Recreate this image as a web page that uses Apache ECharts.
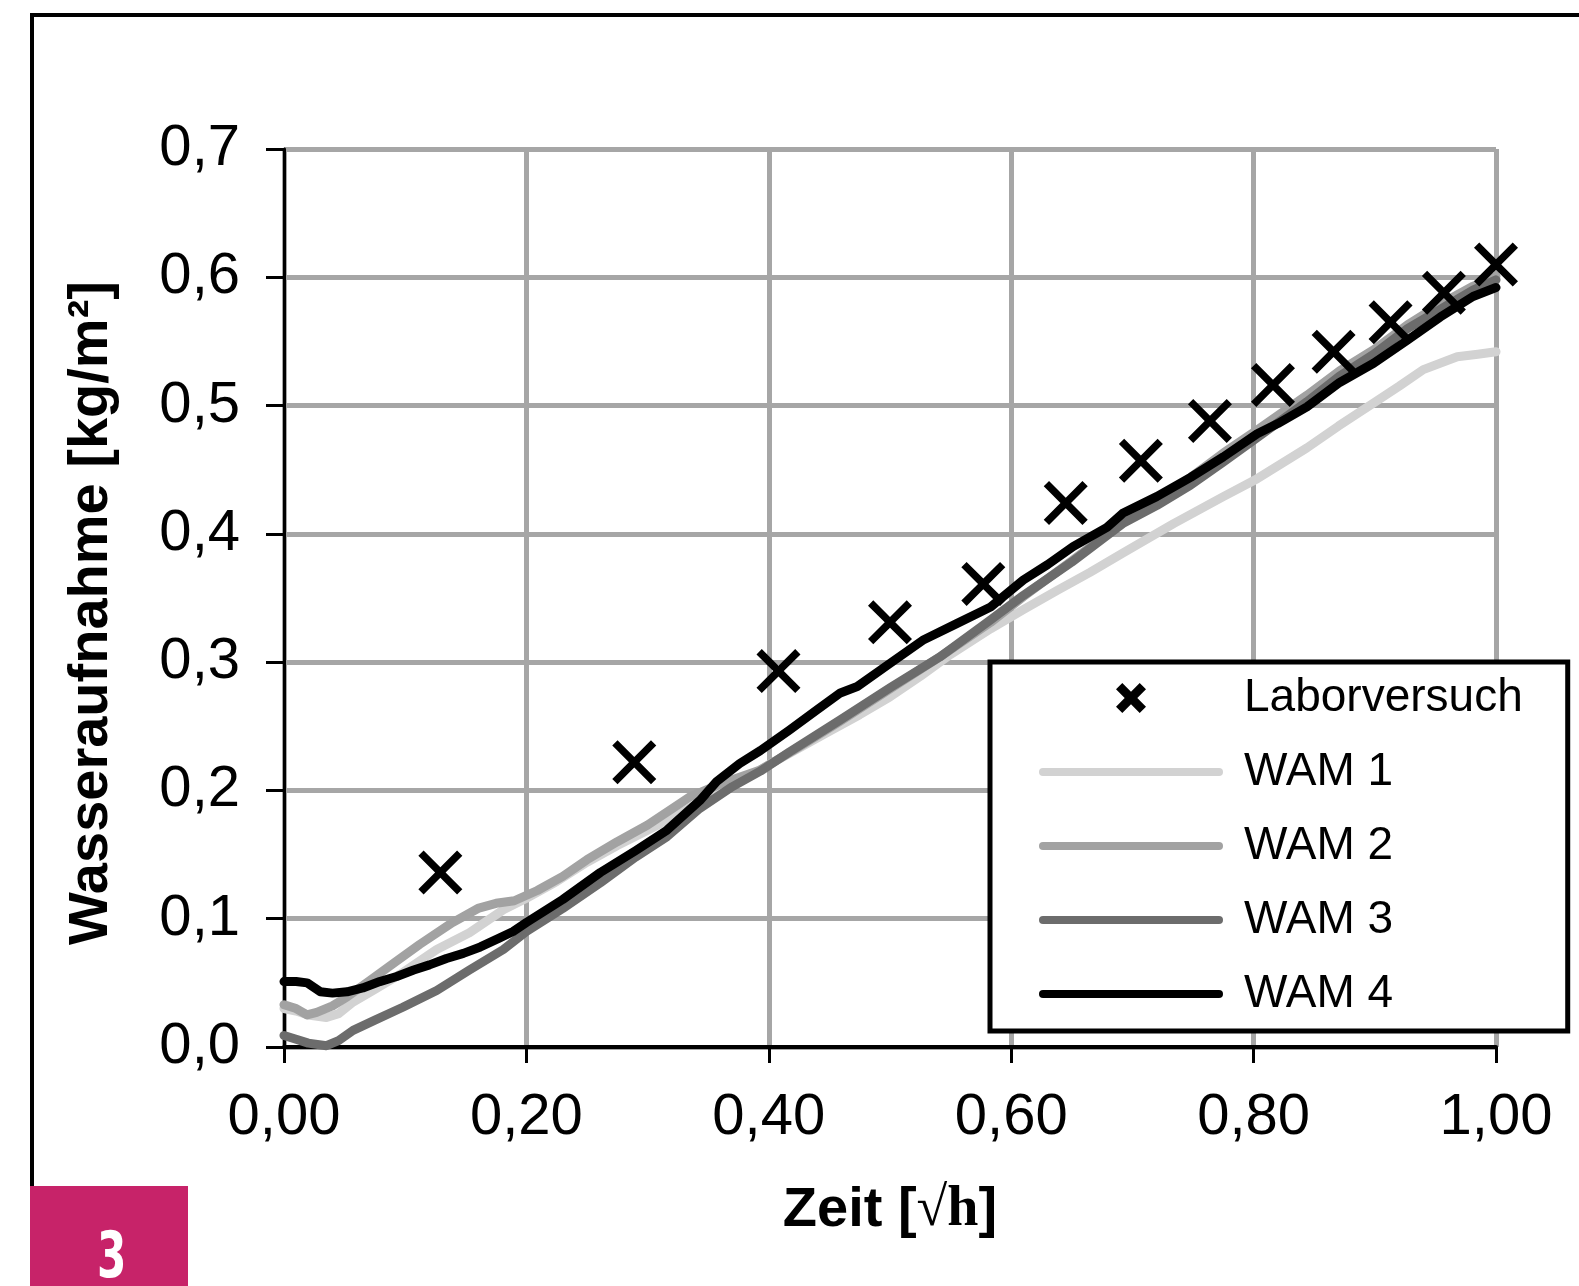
<!DOCTYPE html>
<html>
<head>
<meta charset="utf-8">
<title>Wasseraufnahme</title>
<script src="https://cdn.jsdelivr.net/npm/echarts@6/dist/echarts.min.js"></script>
<style>
	html, body { margin: 0; padding: 0; background: #fff; }
	#chart { width: 1579px; height: 1286px; }
</style>
</head>
<body>
<div id="chart"></div>
<script>
	// Laborversuch (Messpunkte)
	var laborX = [0.129, 0.289, 0.408, 0.500, 0.577, 0.645, 0.707, 0.764, 0.816, 0.866, 0.913, 0.957, 1.000];
	var laborY = [0.136, 0.222, 0.293, 0.331, 0.361, 0.424, 0.457, 0.488, 0.516, 0.542, 0.565, 0.588, 0.610];

	// WAM-Kurven [x, y]
	var wam1 = [[0.000,0.030],[0.010,0.028],[0.020,0.025],[0.035,0.023],[0.045,0.026],[0.057,0.035],[0.075,0.045],[0.098,0.058],
		[0.126,0.076],[0.153,0.089],[0.181,0.107],[0.200,0.116],[0.225,0.129],[0.250,0.144],[0.275,0.157],[0.300,0.169],
		[0.325,0.181],[0.350,0.195],[0.375,0.206],[0.400,0.220],[0.425,0.233],[0.450,0.246],[0.475,0.259],[0.500,0.273],
		[0.525,0.289],[0.550,0.306],[0.583,0.326],[0.610,0.341],[0.638,0.356],[0.665,0.370],[0.692,0.385],[0.734,0.408],
		[0.775,0.429],[0.803,0.443],[0.844,0.467],[0.870,0.484],[0.899,0.502],[0.920,0.515],[0.940,0.528],[0.968,0.538],
		[0.985,0.540],[1.000,0.542]];
	var wam2 = [[0.000,0.033],[0.010,0.030],[0.019,0.025],[0.027,0.027],[0.040,0.032],[0.052,0.039],[0.071,0.052],[0.090,0.065],
		[0.112,0.080],[0.139,0.097],[0.160,0.108],[0.175,0.112],[0.190,0.114],[0.209,0.122],[0.230,0.133],[0.250,0.146],
		[0.275,0.160],[0.300,0.173],[0.335,0.195],[0.360,0.205],[0.393,0.216],[0.420,0.231],[0.459,0.254],[0.500,0.279],
		[0.541,0.304],[0.583,0.331],[0.610,0.351],[0.650,0.379],[0.692,0.409],[0.720,0.426],[0.748,0.444],[0.775,0.463],
		[0.803,0.481],[0.844,0.508],[0.871,0.527],[0.900,0.544],[0.927,0.563],[0.954,0.579],[0.981,0.593],[1.000,0.601]];
	var wam3 = [[0.000,0.009],[0.010,0.006],[0.020,0.003],[0.035,0.001],[0.045,0.005],[0.057,0.013],[0.075,0.021],[0.098,0.031],
		[0.126,0.044],[0.153,0.060],[0.181,0.076],[0.200,0.090],[0.230,0.108],[0.261,0.128],[0.290,0.148],[0.316,0.164],
		[0.343,0.186],[0.370,0.203],[0.393,0.215],[0.417,0.230],[0.459,0.255],[0.500,0.280],[0.541,0.304],[0.583,0.333],
		[0.610,0.352],[0.650,0.378],[0.692,0.408],[0.720,0.422],[0.748,0.438],[0.775,0.456],[0.803,0.475],[0.844,0.503],
		[0.871,0.523],[0.899,0.540],[0.927,0.560],[0.954,0.575],[0.981,0.590],[1.000,0.598]];
	var wam4 = [[0.000,0.051],[0.010,0.051],[0.019,0.050],[0.030,0.043],[0.040,0.042],[0.052,0.043],[0.065,0.046],[0.079,0.051],
		[0.093,0.055],[0.107,0.060],[0.120,0.064],[0.134,0.069],[0.148,0.073],[0.162,0.078],[0.178,0.085],[0.189,0.090],
		[0.200,0.097],[0.230,0.115],[0.261,0.136],[0.290,0.153],[0.316,0.169],[0.343,0.192],[0.357,0.207],[0.376,0.221],
		[0.393,0.231],[0.417,0.247],[0.440,0.263],[0.459,0.276],[0.473,0.281],[0.500,0.299],[0.527,0.317],[0.555,0.330],
		[0.583,0.343],[0.610,0.364],[0.630,0.376],[0.651,0.390],[0.679,0.405],[0.692,0.416],[0.720,0.429],[0.748,0.444],
		[0.775,0.460],[0.803,0.478],[0.820,0.486],[0.844,0.499],[0.871,0.518],[0.899,0.533],[0.927,0.551],[0.954,0.569],
		[0.981,0.585],[1.000,0.592]];

	var seriesNames = ['Laborversuch', 'WAM 1', 'WAM 2', 'WAM 3', 'WAM 4'];
	var lineColors = ['#d2d2d2', '#a2a2a2', '#6c6c6c', '#000000'];

	var FONT = '"Liberation Sans", Arial, sans-serif';
	var crossPath = 'path://M0,12L12,0L50,38L88,0L100,12L62,50L100,88L88,100L50,62L12,100L0,88L38,50Z';
	var crossLegend = 'path://M0,21L21,0L50,29L79,0L100,21L71,50L100,79L79,100L50,71L21,100L0,79L29,50Z';
	// dicker Balken mit runden Enden als Legendensymbol
	var barLegend = 'path://M4,0L180,0A4,4,0,0,1,180,8L4,8A4,4,0,0,1,4,0Z';

	function comma(v, d){
		return v.toFixed(d).replace('.', ',');
	}

	var chart = echarts.init(document.getElementById('chart'));

	var labor = laborX.map(function(x, i){
		return [x, laborY[i]];
	});

	function wamSeries(name, data, color){
		return {
			name: name,
			type: 'line',
			data: data,
			symbol: 'none',
			clip: false,
			smooth: false,
			lineStyle: { color: color, width: 9, cap: 'round', join: 'round' },
			itemStyle: { color: color }
		};
	}

	var option = {
		animation: false,
		backgroundColor: '#ffffff',
		grid: { left: 284, top: 149, right: 83, bottom: 239 },
		xAxis: {
			type: 'value',
			min: 0,
			max: 1,
			interval: 0.2,
			name: 'Zeit [{s|√h}]',
			nameLocation: 'middle',
			nameGap: 136,
			nameTextStyle: {
				fontFamily: FONT, fontSize: 56, fontWeight: 'bold', color: '#000',
				rich: { s: { fontFamily: '"Liberation Serif", serif', fontSize: 56, fontWeight: 'bold', color: '#000' } }
			},
			axisLine: { lineStyle: { color: '#000', width: 4 } },
			axisTick: { show: true, length: 16, lineStyle: { color: '#000', width: 3 } },
			axisLabel: {
				margin: 42, fontSize: 58, fontFamily: FONT, color: '#000',
				formatter: function(v){ return comma(v, 2); }
			},
			splitLine: { show: true, lineStyle: { color: '#a6a6a6', width: 5 } }
		},
		yAxis: {
			type: 'value',
			min: 0,
			max: 0.7,
			interval: 0.1,
			name: 'Wasseraufnahme [kg/m²]',
			nameLocation: 'middle',
			nameGap: 164,
			nameTextStyle: { fontFamily: FONT, fontSize: 56, fontWeight: 'bold', color: '#000', padding: [0, 30, 0, 0] },
			axisLine: { show: true, lineStyle: { color: '#000', width: 3 } },
			axisTick: { show: true, length: 18, lineStyle: { color: '#000', width: 3 } },
			axisLabel: {
				margin: 44, fontSize: 58, fontFamily: FONT, color: '#000',
				formatter: function(v){ return comma(v, 1); }
			},
			splitLine: { show: true, lineStyle: { color: '#a6a6a6', width: 5 } }
		},
		legend: {
			orient: 'vertical',
			left: 990,
			top: 662,
			padding: [13, 45, 14, 49],
			backgroundColor: '#ffffff',
			borderColor: '#000',
			borderWidth: 5,
			itemWidth: 184,
			itemHeight: 30,
			itemGap: 28,
			selectedMode: false,
			textStyle: { fontFamily: FONT, fontSize: 46, lineHeight: 46, color: '#000', padding: [0, 0, 0, 16] },
			data: [
				{ name: seriesNames[0], icon: crossLegend },
				{ name: seriesNames[1], icon: barLegend },
				{ name: seriesNames[2], icon: barLegend },
				{ name: seriesNames[3], icon: barLegend },
				{ name: seriesNames[4], icon: barLegend }
			]
		},
		graphic: [
			{
				type: 'rect',
				shape: { x: 32, y: 15, width: 1700, height: 1500 },
				style: { fill: 'none', stroke: '#000', lineWidth: 4 },
				silent: true
			},
			{
				type: 'rect',
				shape: { x: 30, y: 1186, width: 158, height: 110 },
				style: { fill: '#c72369' },
				silent: true
			},
			{
				type: 'text',
				left: 97,
				top: 1228,
				scaleX: 0.66,
				style: { text: '3', fill: '#fff', font: 'bold 64px "DejaVu Sans", sans-serif' },
				silent: true
			}
		],
		series: [
			wamSeries(seriesNames[1], wam1, lineColors[0]),
			wamSeries(seriesNames[2], wam2, lineColors[1]),
			wamSeries(seriesNames[3], wam3, lineColors[2]),
			wamSeries(seriesNames[4], wam4, lineColors[3]),
			{
				name: seriesNames[0],
				type: 'scatter',
				data: labor,
				symbol: crossPath,
				symbolSize: 44,
				itemStyle: { color: '#000', opacity: 1 },
				z: 5
			}
		]
	};

	chart.setOption(option);
</script>
</body>
</html>
